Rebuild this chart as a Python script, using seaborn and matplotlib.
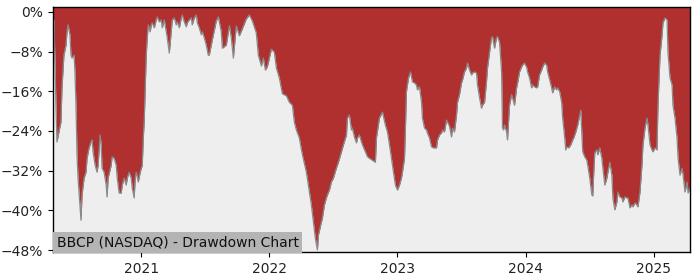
import numpy as np
import pandas as pd
import matplotlib
matplotlib.use("Agg")
import matplotlib.pyplot as plt
import matplotlib.dates as mdates
from matplotlib.ticker import PercentFormatter, FixedLocator
import seaborn as sns

# Dates as decimal years, drawdown in percent
years_decimal = [
    2020.313, 2020.320, 2020.328, 2020.336, 2020.344, 2020.359, 2020.375, 2020.383, 2020.398, 2020.414,
    2020.422, 2020.430, 2020.445, 2020.453, 2020.461, 2020.477, 2020.484, 2020.492, 2020.500, 2020.508,
    2020.523, 2020.531, 2020.539, 2020.555, 2020.570, 2020.578, 2020.594, 2020.609, 2020.617, 2020.625,
    2020.641, 2020.656, 2020.664, 2020.680, 2020.688, 2020.695, 2020.711, 2020.727, 2020.734, 2020.742,
    2020.766, 2020.773, 2020.789, 2020.805, 2020.813, 2020.828, 2020.844, 2020.852, 2020.867, 2020.883,
    2020.891, 2020.906, 2020.922, 2020.930, 2020.945, 2020.953, 2020.961, 2020.977, 2020.992, 2021.008,
    2021.016, 2021.023, 2021.031, 2021.039, 2021.047, 2021.055, 2021.070, 2021.078, 2021.086, 2021.102,
    2021.117, 2021.125, 2021.141, 2021.156, 2021.164, 2021.180, 2021.195, 2021.203, 2021.219, 2021.234,
    2021.242, 2021.258, 2021.273, 2021.281, 2021.297, 2021.313, 2021.320, 2021.336, 2021.352, 2021.359,
    2021.375, 2021.391, 2021.398, 2021.414, 2021.430, 2021.438, 2021.453, 2021.469, 2021.477, 2021.492,
    2021.508, 2021.523, 2021.531, 2021.555, 2021.586, 2021.602, 2021.625, 2021.633, 2021.664, 2021.688,
    2021.703, 2021.719, 2021.742, 2021.766, 2021.789, 2021.820, 2021.844, 2021.867, 2021.898, 2021.914,
    2021.938, 2021.953, 2021.969, 2021.984, 2022.016, 2022.039, 2022.055, 2022.078, 2022.102, 2022.133,
    2022.156, 2022.180, 2022.195, 2022.211, 2022.234, 2022.258, 2022.289, 2022.313, 2022.328, 2022.344,
    2022.359, 2022.375, 2022.383, 2022.406, 2022.414, 2022.430, 2022.445, 2022.453, 2022.469, 2022.484,
    2022.500, 2022.523, 2022.539, 2022.563, 2022.578, 2022.602, 2022.609, 2022.625, 2022.641, 2022.648,
    2022.664, 2022.680, 2022.688, 2022.703, 2022.719, 2022.727, 2022.750, 2022.766, 2022.781, 2022.805,
    2022.828, 2022.836, 2022.859, 2022.883, 2022.906, 2022.922, 2022.938, 2022.953, 2022.969, 2022.984,
    2023.000, 2023.016, 2023.031, 2023.039, 2023.055, 2023.063, 2023.070, 2023.086, 2023.102, 2023.117,
    2023.133, 2023.148, 2023.156, 2023.172, 2023.188, 2023.195, 2023.211, 2023.227, 2023.234, 2023.250,
    2023.266, 2023.281, 2023.305, 2023.313, 2023.328, 2023.344, 2023.352, 2023.367, 2023.383, 2023.391,
    2023.406, 2023.422, 2023.430, 2023.445, 2023.461, 2023.469, 2023.484, 2023.500, 2023.508, 2023.523,
    2023.539, 2023.547, 2023.563, 2023.578, 2023.586, 2023.602, 2023.617, 2023.625, 2023.641, 2023.656,
    2023.664, 2023.680, 2023.695, 2023.703, 2023.719, 2023.734, 2023.742, 2023.758, 2023.773, 2023.781,
    2023.797, 2023.813, 2023.820, 2023.828, 2023.836, 2023.852, 2023.859, 2023.875, 2023.891, 2023.898,
    2023.914, 2023.930, 2023.938, 2023.953, 2023.969, 2023.977, 2023.992, 2024.008, 2024.016, 2024.031,
    2024.047, 2024.055, 2024.070, 2024.086, 2024.094, 2024.109, 2024.125, 2024.133, 2024.148, 2024.164,
    2024.172, 2024.188, 2024.203, 2024.211, 2024.227, 2024.242, 2024.250, 2024.266, 2024.281, 2024.289,
    2024.305, 2024.313, 2024.320, 2024.336, 2024.352, 2024.367, 2024.375, 2024.391, 2024.406, 2024.422,
    2024.430, 2024.438, 2024.445, 2024.461, 2024.477, 2024.484, 2024.500, 2024.516, 2024.523, 2024.531,
    2024.539, 2024.555, 2024.563, 2024.578, 2024.594, 2024.602, 2024.617, 2024.633, 2024.641, 2024.656,
    2024.672, 2024.680, 2024.695, 2024.711, 2024.719, 2024.734, 2024.750, 2024.758, 2024.773, 2024.789,
    2024.797, 2024.813, 2024.828, 2024.836, 2024.852, 2024.867, 2024.875, 2024.891, 2024.906, 2024.914,
    2024.930, 2024.945, 2024.953, 2024.969, 2024.984, 2024.992, 2025.008, 2025.023, 2025.031, 2025.047,
    2025.063, 2025.070, 2025.086, 2025.102, 2025.109, 2025.125, 2025.141, 2025.148, 2025.164, 2025.180,
    2025.188, 2025.203, 2025.219, 2025.227, 2025.242, 2025.258, 2025.266, 2025.281,
]

drawdown_pct = [
    -1.2, -1.6, -9.7, -18.8, -26.2, -24.2, -22.2, -15.3, -8.7, -6.7,
    -4.0, -2.6, -4.6, -8.7, -9.3, -8.7, -12.1, -18.8, -28.8, -33.5,
    -38.9, -42.0, -36.9, -33.5, -32.3, -29.5, -27.4, -26.2, -25.8, -28.2,
    -30.9, -32.3, -30.9, -24.8, -26.8, -31.5, -32.3, -34.9, -37.3, -33.5,
    -30.9, -29.2, -29.5, -30.9, -33.5, -36.5, -36.5, -34.9, -33.5, -34.9,
    -33.5, -32.3, -33.5, -35.5, -37.5, -33.5, -32.3, -34.3, -32.3, -30.9,
    -25.4, -22.2, -15.3, -8.7, -5.2, -2.6, -4.0, -2.6, -2.2, -3.2,
    -1.6, -1.0, -2.0, -1.6, -3.2, -1.6, -4.0, -5.2, -8.3, -4.0,
    -1.6, -1.2, -2.6, -2.0, -3.2, -1.2, -0.6, -2.0, -3.0, -2.2,
    -1.6, -1.2, -2.6, -1.2, -0.6, -2.2, -3.2, -4.6, -4.0, -5.2,
    -6.7, -8.7, -8.7, -5.6, -1.8, -1.0, -4.0, -7.3, -6.7, -2.8,
    -5.2, -9.3, -2.8, -4.8, -3.4, -1.4, -0.6, -1.8, -4.2, -8.7,
    -10.9, -9.3, -11.7, -11.1, -7.5, -8.1, -11.3, -13.3, -16.5, -16.9,
    -18.2, -18.8, -22.2, -23.8, -25.4, -28.8, -32.3, -36.3, -38.9, -42.4,
    -45.6, -48.0, -45.0, -42.4, -41.6, -38.9, -37.5, -36.9, -35.9, -34.3,
    -33.5, -31.5, -30.3, -28.2, -26.8, -24.8, -21.4, -20.8, -23.8, -23.4,
    -25.2, -26.4, -25.4, -24.8, -26.2, -26.8, -28.2, -29.2, -29.5, -29.9,
    -30.3, -25.4, -21.4, -20.2, -22.8, -24.2, -26.8, -29.5, -32.3, -34.9,
    -35.9, -34.9, -33.5, -32.3, -29.5, -22.8, -16.1, -13.3, -12.1, -14.1,
    -14.3, -14.7, -15.7, -15.1, -18.2, -21.4, -23.4, -23.8, -24.4, -25.4,
    -27.2, -27.4, -27.4, -25.8, -24.8, -24.4, -23.8, -24.2, -21.8, -22.2,
    -23.0, -25.2, -23.4, -24.2, -20.8, -18.2, -16.7, -14.3, -13.7, -12.1,
    -11.3, -10.3, -11.7, -12.7, -12.3, -12.1, -12.3, -14.7, -17.3, -19.4,
    -18.8, -18.2, -14.1, -11.3, -8.1, -5.2, -5.0, -7.3, -5.2, -5.0,
    -6.1, -12.1, -23.4, -23.8, -22.8, -24.2, -25.8, -18.8, -16.7, -17.3,
    -18.8, -15.3, -14.3, -12.1, -11.1, -10.7, -10.3, -11.1, -12.1, -13.3,
    -15.3, -14.7, -15.1, -15.3, -15.1, -12.7, -11.7, -11.1, -10.3, -10.7,
    -12.1, -13.7, -15.3, -16.3, -15.1, -15.7, -15.3, -16.1, -18.2, -21.4,
    -25.4, -27.8, -27.2, -27.4, -26.8, -25.8, -25.4, -24.2, -22.8, -20.8,
    -19.8, -24.2, -28.2, -29.2, -29.9, -30.9, -33.5, -36.9, -37.1, -32.3,
    -28.4, -27.8, -28.8, -27.4, -29.5, -31.5, -34.9, -33.5, -32.3, -30.3,
    -32.9, -37.5, -39.9, -38.3, -36.3, -37.3, -37.5, -38.3, -37.3, -37.5,
    -37.5, -39.5, -38.9, -39.3, -38.5, -38.9, -39.3, -36.3, -30.9, -26.8,
    -23.4, -21.4, -22.8, -26.8, -27.8, -28.2, -27.4, -27.8, -18.8, -8.7,
    -4.6, -2.2, -1.2, -1.6, -8.1, -13.3, -14.7, -18.8, -21.4, -25.4,
    -29.5, -32.9, -31.5, -32.9, -36.3, -34.3, -36.5, -35.5,
]

year_ticks = [2021, 2022, 2023, 2024, 2025]
pct_ticks = [0, -8, -16, -24, -32, -40, -48]
title_text = "BBCP (NASDAQ) - Drawdown Chart"

# Build the table
yd = np.array(years_decimal)
yr_int = np.floor(yd).astype(int)
frac = yd - yr_int
starts = pd.to_datetime([f"{y}-01-01" for y in yr_int])
days_in_year = np.where(pd.Series(starts).dt.is_leap_year, 366, 365)
dates = starts + pd.to_timedelta(frac * days_in_year, unit="D")
df = pd.DataFrame({"date": dates, "drawdown": np.array(drawdown_pct) / 100.0})

sns.set_theme(style="white")
plt.rcParams["font.family"] = ["DejaVu Sans"]
plt.rcParams["axes.unicode_minus"] = True

RED = "#b03030"
GREY = "#eeeeee"

fig = plt.figure(figsize=(7, 2.8), dpi=100)
ax = fig.add_axes([0.0757, 0.1, 0.91, 0.875])
ax.set_facecolor(RED)

ybottom, ytop = -0.484, 0.01
ax.fill_between(df["date"], df["drawdown"], ybottom, color=GREY, zorder=1, linewidth=0)
sns.lineplot(data=df, x="date", y="drawdown", ax=ax, color="#8a8a8a", linewidth=0.9, zorder=2)

ax.set_xlim(df["date"].iloc[0], df["date"].iloc[-1])
ax.set_ylim(ybottom, ytop)
ax.set_xlabel("")
ax.set_ylabel("")

ax.xaxis.set_major_locator(FixedLocator([mdates.date2num(pd.Timestamp(f"{y}-01-01")) for y in year_ticks]))
ax.xaxis.set_major_formatter(mdates.DateFormatter("%Y"))
ax.yaxis.set_major_locator(FixedLocator([p / 100.0 for p in pct_ticks]))
ax.yaxis.set_major_formatter(PercentFormatter(xmax=1, decimals=0))

ax.tick_params(axis="both", which="major", labelsize=10, length=3.5, width=0.8,
               color="black", labelcolor="#222222", bottom=True, left=True)
for s in ax.spines.values():
    s.set_visible(True)
    s.set_color("black")
    s.set_linewidth(1.0)

ax.text(0.006, 0.012, title_text, transform=ax.transAxes, fontsize=10, color="#111111",
        ha="left", va="bottom", zorder=5,
        bbox=dict(facecolor="#b4b4b4", edgecolor="none", pad=2.5))

fig.savefig("out.png", dpi=100)
